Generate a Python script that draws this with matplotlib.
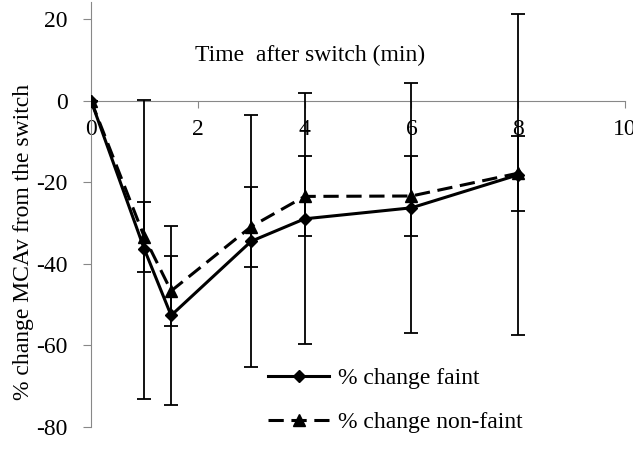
import matplotlib
matplotlib.use('Agg')
import matplotlib.pyplot as plt

plt.rcParams['font.family'] = ['Liberation Serif', 'DejaVu Serif']
plt.rcParams['axes.unicode_minus'] = False

# data
time_min = [0, 1, 1.5, 3, 4, 6, 8]
faint = [0, -36.5, -52.7, -34.5, -29.0, -26.3, -18.2]
faint_err = [0, 36.7, 21.9, 30.9, 30.8, 30.7, 39.4]
nonfaint = [0, -33.5, -46.7, -30.9, -23.5, -23.4, -17.8]
nonfaint_err = [0, 8.6, 8.6, 9.8, 9.8, 9.8, 9.2]

xticks = [0, 2, 4, 6, 8, 10]
yticks = [-80, -60, -40, -20, 0, 20]

fig = plt.figure(figsize=(6.33, 4.61), dpi=100)
ax = fig.add_axes([0.1438, 0.0744, 0.8436, 0.9213])

c1 = ax.errorbar(time_min, faint, yerr=faint_err, color='black', lw=2.2,
                 marker='D', ms=6, elinewidth=1.3, capsize=4.7, capthick=1.3,
                 zorder=3)
c2 = ax.errorbar(time_min, nonfaint, yerr=nonfaint_err, color='black', lw=2.2,
                 ls=(0, (5, 2.5)), marker='^', ms=8, elinewidth=1.3,
                 capsize=4.7, capthick=1.3, zorder=3)

ax.set_xlim(0, 10)
ax.set_ylim(-80, 24.2)
ax.set_xticks(xticks)
ax.set_yticks(yticks)

gray = '#888888'
for s in ['top', 'right']:
    ax.spines[s].set_visible(False)
ax.spines['bottom'].set_position(('data', 0))
ax.spines['bottom'].set_color(gray)
ax.spines['left'].set_color(gray)
ax.tick_params(axis='x', direction='out', length=5, color=gray, pad=8, labelsize=17)
ax.tick_params(axis='y', direction='out', length=6, color=gray, pad=11, labelsize=17)

ax.text(4.1, 11.2, 'Time  after switch (min)', fontsize=17, ha='center', va='center')
fig.text(0.037, 0.475, '% change MCAv from the switch', fontsize=17,
         rotation=90, ha='center', va='center')

ax.legend([c1.lines[0], c2.lines[0]], ['% change faint', '% change non-faint'],
          loc='upper left', bbox_to_anchor=(0.4234, 0.203),
          bbox_transform=fig.transFigure, frameon=False, fontsize=17,
          handlelength=2.6, handletextpad=0.35, labelspacing=0.95,
          borderpad=0, borderaxespad=0)

fig.savefig('out.png', dpi=100)
